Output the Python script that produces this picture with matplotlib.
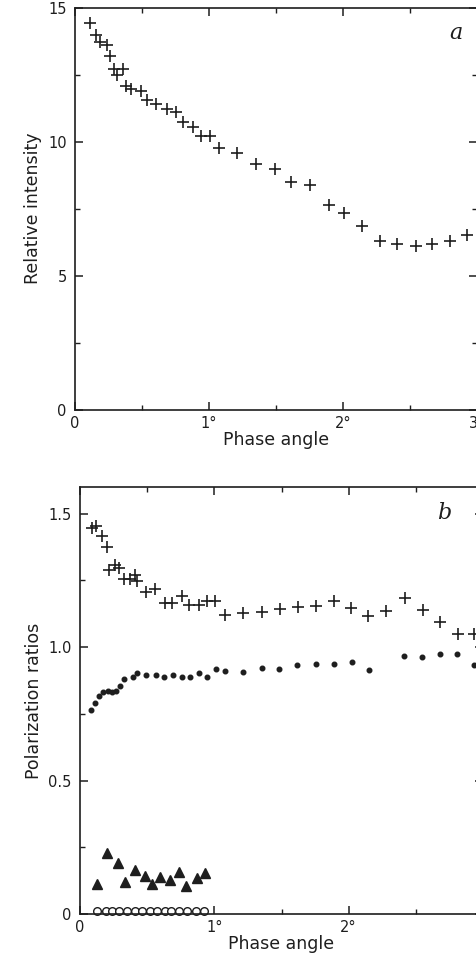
import matplotlib
matplotlib.use("Agg")
import matplotlib.pyplot as plt
from matplotlib.ticker import MultipleLocator, FixedLocator

# ---- Panel a: relative intensity vs phase angle ----
a_phase = [0.111, 0.153, 0.185, 0.235, 0.259, 0.291, 0.316, 0.358, 0.383, 0.420,
           0.489, 0.539, 0.605, 0.687, 0.753, 0.802, 0.876, 0.939, 1.007, 1.074,
           1.210, 1.346, 1.489, 1.613, 1.753, 1.894, 2.004, 2.141, 2.272, 2.401,
           2.543, 2.661, 2.798, 2.921]
a_intensity = [14.43, 13.99, 13.71, 13.62, 13.18, 12.71, 12.50, 12.71, 12.09, 11.97,
               11.88, 11.57, 11.42, 11.22, 11.09, 10.72, 10.55, 10.22, 10.20, 9.77,
               9.58, 9.17, 8.98, 8.48, 8.40, 7.65, 7.35, 6.84, 6.31, 6.17,
               6.11, 6.19, 6.28, 6.53]

# ---- Panel b: polarization ratios ----
plus_phase = [0.087, 0.119, 0.162, 0.199, 0.219, 0.261, 0.293, 0.328, 0.373, 0.410,
              0.428, 0.493, 0.560, 0.634, 0.684, 0.759, 0.808, 0.883, 0.946, 1.007,
              1.082, 1.214, 1.356, 1.487, 1.625, 1.759, 1.890, 2.015, 2.144, 2.276,
              2.418, 2.550, 2.681, 2.811, 2.931]
plus_ratio = [1.446, 1.452, 1.415, 1.377, 1.290, 1.309, 1.296, 1.255, 1.255, 1.271,
              1.246, 1.205, 1.218, 1.167, 1.167, 1.192, 1.159, 1.159, 1.171, 1.174,
              1.121, 1.127, 1.133, 1.142, 1.150, 1.155, 1.174, 1.146, 1.115, 1.136,
              1.183, 1.140, 1.093, 1.048, 1.048]

dot_phase = [0.08, 0.11, 0.14, 0.17, 0.21, 0.24, 0.27, 0.30, 0.328, 0.393,
             0.428, 0.493, 0.567, 0.622, 0.692, 0.759, 0.821, 0.883, 0.946, 1.015,
             1.082, 1.214, 1.356, 1.480, 1.617, 1.759, 1.890, 2.028, 2.151, 2.413,
             2.545, 2.681, 2.806, 2.935]
dot_ratio = [0.765, 0.79, 0.815, 0.83, 0.835, 0.83, 0.835, 0.855, 0.881, 0.888,
             0.904, 0.896, 0.896, 0.888, 0.896, 0.888, 0.888, 0.904, 0.888, 0.917,
             0.911, 0.908, 0.921, 0.917, 0.934, 0.937, 0.937, 0.946, 0.915, 0.967,
             0.962, 0.975, 0.975, 0.934]

tri_phase = [0.129, 0.199, 0.286, 0.338, 0.407, 0.483, 0.535, 0.599, 0.672, 0.734,
             0.791, 0.868, 0.933]
tri_ratio = [0.112, 0.228, 0.190, 0.119, 0.165, 0.144, 0.112, 0.138, 0.127, 0.156,
             0.105, 0.134, 0.154]

circ_phase = [0.13, 0.19, 0.24, 0.29, 0.35, 0.41, 0.46, 0.52, 0.57, 0.63,
              0.68, 0.74, 0.80, 0.86, 0.92]
circ_ratio = [0.012] * 15

x_ticks = [0, 1, 2, 3]
x_ticklabels = ["0", "1°", "2°", "3°"]
a_yticks = [0, 5, 10, 15]
a_yticklabels = ["0", "5", "10", "15"]
b_yticks = [0, 0.5, 1.0, 1.5]
b_yticklabels = ["0", "0.5", "1.0", "1.5"]

INK = "#1e1e1e"
W, H = 477, 957
fig = plt.figure(figsize=(W / 100, H / 100), dpi=100)
plt.rcParams["font.family"] = ["DejaVu Sans"]


def px_axes(l, t, r, b):
    return fig.add_axes([l / W, 1 - b / H, (r - l) / W, (b - t) / H])


def style(ax, yticks, yticklabels, yminor):
    ax.set_xlim(0, 3)
    ax.xaxis.set_major_locator(FixedLocator(x_ticks))
    ax.set_xticklabels(x_ticklabels)
    ax.xaxis.set_minor_locator(MultipleLocator(0.5))
    ax.set_yticks(yticks)
    ax.set_yticklabels(yticklabels)
    ax.yaxis.set_minor_locator(MultipleLocator(yminor))
    ax.tick_params(which="both", direction="in", top=True, right=True,
                   color=INK, labelcolor=INK, labelsize=10.5)
    ax.tick_params(axis="x", which="both", pad=4)
    ax.tick_params(axis="y", which="both", pad=6)
    ax.tick_params(which="major", length=6, width=1.1)
    ax.tick_params(which="minor", length=3.5, width=1.0)
    for s in ax.spines.values():
        s.set_color(INK)
        s.set_linewidth(1.2)
    ax.set_xlabel("Phase angle", fontsize=12.5, color=INK, labelpad=0)


# Panel a
ax1 = px_axes(75, 7.5, 477.5, 410)
ax1.plot(a_phase, a_intensity, linestyle="none", marker="+", markersize=9,
         markeredgewidth=1.2, color=INK)
ax1.set_ylim(0, 15)
style(ax1, a_yticks, a_yticklabels, 2.5)
ax1.set_ylabel("Relative intensity", fontsize=12.5, color=INK, labelpad=4)
ax1.text(0.93, 0.965, "a", transform=ax1.transAxes, fontsize=16,
         fontstyle="italic", family="DejaVu Serif", ha="left", va="top", color=INK)

# Panel b
ax2 = px_axes(80, 487, 483, 914)
ax2.plot(plus_phase, plus_ratio, linestyle="none", marker="+", markersize=9,
         markeredgewidth=1.2, color=INK, clip_on=False)
ax2.plot(dot_phase, dot_ratio, linestyle="none", marker="o", markersize=3.3,
         color=INK, clip_on=False)
ax2.plot(tri_phase, tri_ratio, linestyle="none", marker="^", markersize=6.5,
         color=INK)
ax2.plot(circ_phase, circ_ratio, linestyle="none", marker="o", markersize=5.5,
         markerfacecolor="white", markeredgecolor=INK, markeredgewidth=1.0,
         clip_on=False)
ax2.set_ylim(0, 1.6)
style(ax2, b_yticks, b_yticklabels, 0.25)
ax2.set_ylabel("Polarization ratios", fontsize=12.5, color=INK, labelpad=4)
ax2.text(0.885, 0.965, "b", transform=ax2.transAxes, fontsize=16,
         fontstyle="italic", family="DejaVu Serif", ha="left", va="top", color=INK)

fig.savefig("out.png", dpi=100)
